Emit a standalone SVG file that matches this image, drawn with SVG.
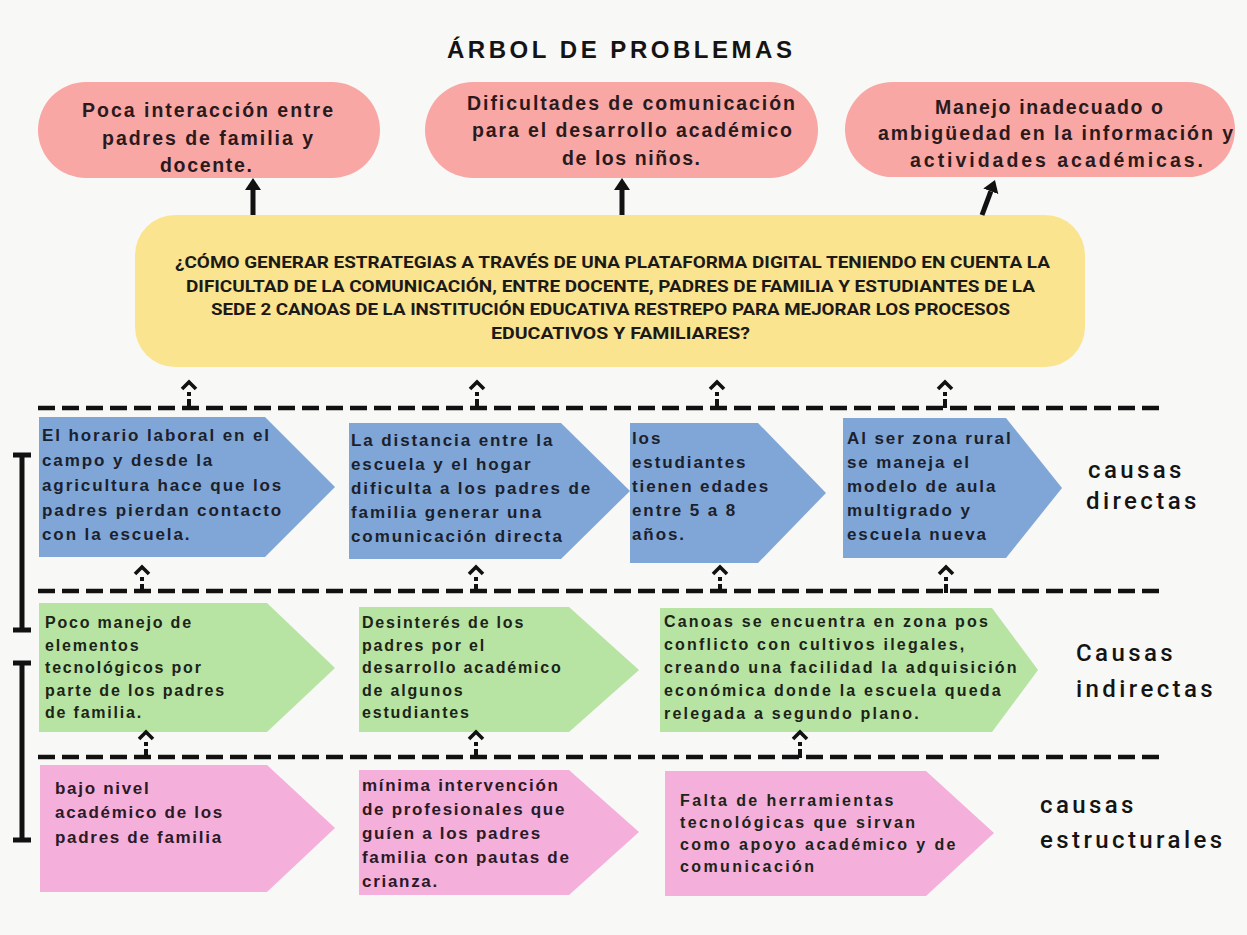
<svg xmlns="http://www.w3.org/2000/svg" width="1247" height="935" viewBox="0 0 1247 935">
<style>
.bg{fill:#f8f8f6}
.pill{fill:#f8a7a5}
.q{fill:#fbe48f}
.blue{fill:#7fa6d6}
.green{fill:#b7e3a3}
.pink{fill:#f5afdb}
.title{font-family:"Liberation Sans",Arial,sans-serif;font-weight:700;font-size:24px;fill:#141414}
.pt{font-family:"Liberation Sans",Arial,sans-serif;font-weight:700;font-size:19.5px;fill:#2a1a1c;text-anchor:middle}
.qt{font-family:Roboto,"Liberation Sans",sans-serif;font-weight:700;font-size:16px;fill:#1c1a18;text-anchor:middle}
.bt{font-family:"Liberation Sans",Arial,sans-serif;font-weight:700;font-size:17px;letter-spacing:1.9px;fill:#1c1f2c}
.gt{font-family:"Liberation Sans",Arial,sans-serif;font-weight:700;font-size:16px;letter-spacing:1.8px;fill:#1c2418}
.kt{font-family:"Liberation Sans",Arial,sans-serif;font-weight:700;font-size:17px;letter-spacing:1.7px;fill:#2a1a26}
.lab{font-family:Roboto,"Liberation Sans",sans-serif;font-weight:500;font-size:24px;letter-spacing:3.4px;fill:#141414}
.dash{stroke:#111;stroke-width:4.5;stroke-dasharray:17 7;fill:none}
.arr{stroke:#111;stroke-width:5;fill:none}
.bar{stroke:#111;stroke-width:5;fill:none}
</style>
<defs>
<marker id="head" viewBox="0 0 12 16" refX="0" refY="8" markerWidth="12" markerHeight="16" markerUnits="userSpaceOnUse" orient="auto">
<path d="M0,0 L12,8 L0,16 Z" fill="#111"/>
</marker>
<g id="up">
<path d="M-7,8 L0,1 L7,8" stroke="#111" stroke-width="3.6" fill="none"/>
<rect x="-2" y="11" width="4" height="4" fill="#111"/>
<rect x="-2" y="18" width="4" height="9" fill="#111"/>
</g>
</defs>
<rect class="bg" x="0" y="0" width="1247" height="935"/>

<text class="title" x="619.5" y="58" text-anchor="middle" textLength="345" lengthAdjust="spacing">ÁRBOL DE PROBLEMAS</text>

<g id="efecto1">
<rect class="pill" x="38" y="82" width="342" height="96" rx="48"/>
<text class="pt" x="207.5" y="117" textLength="251" lengthAdjust="spacing">Poca interacción entre</text>
<text class="pt" x="207.5" y="145" textLength="211" lengthAdjust="spacing">padres de familia y</text>
<text class="pt" x="206" y="172" textLength="92" lengthAdjust="spacing">docente.</text>
</g>
<g id="efecto2">
<rect class="pill" x="425" y="82" width="393" height="96" rx="48"/>
<text class="pt" x="631" y="110" textLength="328" lengthAdjust="spacing">Dificultades de comunicación</text>
<text class="pt" x="632" y="137" textLength="320" lengthAdjust="spacing">para el desarrollo académico</text>
<text class="pt" x="631" y="165" textLength="138" lengthAdjust="spacing">de los niños.</text>
</g>
<g id="efecto3">
<rect class="pill" x="845" y="82" width="390" height="95" rx="47.5"/>
<text class="pt" x="1049" y="114" textLength="228" lengthAdjust="spacing">Manejo inadecuado o</text>
<text class="pt" x="1055.5" y="140" textLength="355" lengthAdjust="spacing">ambigüedad en la información y</text>
<text class="pt" x="1056.5" y="167" textLength="293" lengthAdjust="spacing">actividades académicas.</text>
</g>

<g id="problema">
<rect class="q" x="135" y="215" width="950" height="152" rx="40"/>
<text class="qt" x="612.5" y="268" textLength="875" lengthAdjust="spacingAndGlyphs">¿CÓMO GENERAR ESTRATEGIAS A TRAVÉS DE UNA PLATAFORMA DIGITAL TENIENDO EN CUENTA LA</text>
<text class="qt" x="610.5" y="291.5" textLength="849" lengthAdjust="spacingAndGlyphs">DIFICULTAD DE LA COMUNICACIÓN, ENTRE DOCENTE, PADRES DE FAMILIA Y ESTUDIANTES DE LA</text>
<text class="qt" x="610.5" y="315" textLength="799" lengthAdjust="spacingAndGlyphs">SEDE 2 CANOAS DE LA INSTITUCIÓN EDUCATIVA RESTREPO PARA MEJORAR LOS PROCESOS</text>
<text class="qt" x="620.5" y="339" textLength="259" lengthAdjust="spacingAndGlyphs">EDUCATIVOS Y FAMILIARES?</text>
</g>

<g id="directa1">
<path class="blue" d="M39,417 H265 L335,487 L265,557 H39 Z"/>
<text class="bt" x="42" y="441">El horario laboral en el</text>
<text class="bt" x="42" y="466">campo y desde la</text>
<text class="bt" x="42" y="491">agricultura hace que los</text>
<text class="bt" x="42" y="516">padres pierdan contacto</text>
<text class="bt" x="42" y="540">con la escuela.</text>
</g>
<g id="directa2">
<path class="blue" d="M349,423 H561 L630,491 L561,559 H349 Z"/>
<text class="bt" x="351" y="446">La distancia entre la</text>
<text class="bt" x="351" y="470">escuela y el hogar</text>
<text class="bt" x="351" y="494">dificulta a los padres de</text>
<text class="bt" x="351" y="518">familia generar una</text>
<text class="bt" x="351" y="542">comunicación directa</text>
</g>
<g id="directa3">
<path class="blue" d="M630,423 H758 L826,493 L758,563 H630 Z"/>
<text class="bt" x="632" y="444">los</text>
<text class="bt" x="632" y="468">estudiantes</text>
<text class="bt" x="632" y="492">tienen edades</text>
<text class="bt" x="632" y="516">entre 5 a 8</text>
<text class="bt" x="632" y="540">años.</text>
</g>
<g id="directa4">
<path class="blue" d="M843,418 H1006 L1062,488 L1006,558 H843 Z"/>
<text class="bt" x="847" y="444">Al ser zona rural</text>
<text class="bt" x="847" y="468">se maneja el</text>
<text class="bt" x="847" y="492">modelo de aula</text>
<text class="bt" x="847" y="516">multigrado y</text>
<text class="bt" x="847" y="540">escuela nueva</text>
</g>
<g id="label-directas">
<text class="lab" x="1088" y="478">causas</text>
<text class="lab" x="1086" y="509">directas</text>
</g>

<g id="indirecta1">
<path class="green" d="M39,603 H267 L335,668 L267,732 H39 Z"/>
<text class="gt" x="45" y="628">Poco manejo de</text>
<text class="gt" x="45" y="650.5">elementos</text>
<text class="gt" x="45" y="673">tecnológicos por</text>
<text class="gt" x="45" y="695.5">parte de los padres</text>
<text class="gt" x="45" y="718">de familia.</text>
</g>
<g id="indirecta2">
<path class="green" d="M359,607 H569 L639,670 L569,732 H359 Z"/>
<text class="gt" x="362" y="628">Desinterés de los</text>
<text class="gt" x="362" y="650.5">padres por el</text>
<text class="gt" x="362" y="673">desarrollo académico</text>
<text class="gt" x="362" y="695.5">de algunos</text>
<text class="gt" x="362" y="718">estudiantes</text>
</g>
<g id="indirecta3">
<path class="green" d="M660,608 H992 L1038,670 L992,732 H660 Z"/>
<text class="gt" x="664" y="627" style="letter-spacing:2.2px">Canoas se encuentra en zona pos</text>
<text class="gt" x="664" y="650" style="letter-spacing:2.2px">conflicto con cultivos ilegales,</text>
<text class="gt" x="664" y="673" style="letter-spacing:2.2px">creando una facilidad la adquisición</text>
<text class="gt" x="664" y="696" style="letter-spacing:2.2px">económica donde la escuela queda</text>
<text class="gt" x="664" y="719" style="letter-spacing:2.2px">relegada a segundo plano.</text>
</g>
<g id="label-indirectas">
<text class="lab" x="1076" y="661">Causas</text>
<text class="lab" x="1076" y="697">indirectas</text>
</g>

<g id="estructural1">
<path class="pink" d="M40,765 H267 L335,828 L267,892 H40 Z"/>
<text class="kt" x="55" y="794">bajo nivel</text>
<text class="kt" x="55" y="818">académico de los</text>
<text class="kt" x="55" y="843">padres de familia</text>
</g>
<g id="estructural2">
<path class="pink" d="M359,770 H569 L639,832 L569,895 H359 Z"/>
<text class="kt" x="362" y="791">mínima intervención</text>
<text class="kt" x="362" y="815">de profesionales que</text>
<text class="kt" x="362" y="839">guíen a los padres</text>
<text class="kt" x="362" y="863">familia con pautas de</text>
<text class="kt" x="362" y="887">crianza.</text>
</g>
<g id="estructural3">
<path class="pink" d="M665,771 H926 L994,833 L926,896 H665 Z"/>
<text class="gt" x="680" y="806" style="letter-spacing:2.4px">Falta de herramientas</text>
<text class="gt" x="680" y="828" style="letter-spacing:2.4px">tecnológicas que sirvan</text>
<text class="gt" x="680" y="850" style="letter-spacing:2.4px">como apoyo académico y de</text>
<text class="gt" x="680" y="872" style="letter-spacing:2.4px">comunicación</text>
</g>
<g id="label-estructurales">
<text class="lab" x="1040" y="813">causas</text>
<text class="lab" x="1040" y="848">estructurales</text>
</g>

<g id="connectors">
<line class="arr" x1="253" y1="215" x2="253" y2="190" marker-end="url(#head)"/>
<line class="arr" x1="622" y1="215" x2="622" y2="190" marker-end="url(#head)"/>
<line class="arr" x1="982" y1="215" x2="990.8" y2="191.3" marker-end="url(#head)"/>
<line class="dash" x1="38" y1="408" x2="1166" y2="408"/>
<line class="dash" x1="38" y1="591" x2="1162" y2="591"/>
<line class="dash" x1="38" y1="757" x2="1166" y2="757"/>
<use href="#up" x="189" y="381"/>
<use href="#up" x="477" y="381"/>
<use href="#up" x="717" y="381"/>
<use href="#up" x="945" y="381"/>
<use href="#up" x="142" y="566"/>
<use href="#up" x="476" y="566"/>
<use href="#up" x="720" y="566"/>
<use href="#up" x="946" y="566"/>
<use href="#up" x="146" y="731"/>
<use href="#up" x="476" y="731"/>
<use href="#up" x="800" y="731"/>
<path class="bar" d="M22,455 V630 M13,455 H31 M13,630 H31"/>
<path class="bar" d="M22,663 V840 M13,663 H31 M13,840 H31"/>
</g>
</svg>
